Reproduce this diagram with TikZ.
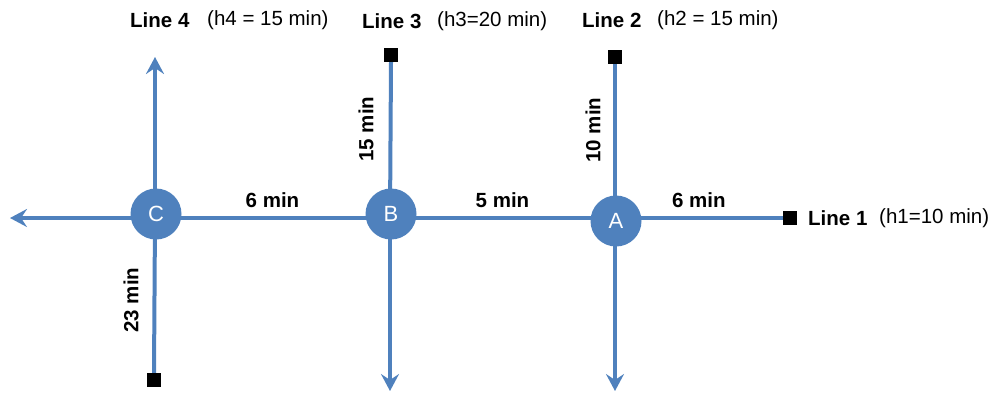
\documentclass[tikz,border=0pt]{standalone}
\usepackage{fontspec}
\setmainfont{Liberation Sans}
\usetikzlibrary{arrows.meta}
\definecolor{lineblue}{HTML}{4F81BD}
\tikzset{
  x=1pt, y=-1pt,
  route/.style={draw=lineblue, line width=4pt},
  arrowed/.style={route, -{Stealth[length=17pt,width=18pt,inset=6pt]}},
  stop/.style={circle, fill=lineblue, minimum size=51pt, inner sep=0pt, text=white, font=\fontsize{22}{24}\selectfont},
  terminus/.style={rectangle, fill=black, minimum size=14pt, inner sep=0pt},
  timelbl/.style={font=\fontsize{20.5}{23}\selectfont\bfseries, inner sep=2pt},
  linename/.style={font=\fontsize{20.5}{23}\selectfont\bfseries, inner sep=0pt},
  headway/.style={font=\fontsize{20.5}{23}\selectfont, inner sep=0pt}
}
\begin{document}
\begin{tikzpicture}
\useasboundingbox (0,0) rectangle (995,392);
% junction coordinates on the lines
\coordinate (Cj) at (155,218);
\coordinate (Bj) at (390,218);
\coordinate (Aj) at (615,218);
\coordinate (west) at (10,218);
\coordinate (north4) at (155,57);
\coordinate (south3) at (390,391);
\coordinate (south2) at (615,391);
% termini
\node[terminus] (t1) at (790,218) {};
\node[terminus] (t3) at (391,55) {};
\node[terminus] (t2) at (615,57) {};
\node[terminus] (t4) at (154,380) {};
% lines
\draw[arrowed] (Cj) -- (west);
\draw[route] (Cj) -- node[timelbl, above=6pt] (l6a) {6 min} (Bj);
\draw[route] (Bj) -- node[timelbl, above=6pt] (l5) {5 min} (Aj);
\draw[route] (Aj) -- node[timelbl, above=6pt] (l6b) {6 min} (t1.west);
\draw[arrowed] (Cj) -- (north4);
\draw[route] (Cj) -- (t4.north);
\draw[route] (Bj) -- (t3.south);
\draw[arrowed] (Bj) -- (south3);
\draw[route] (Aj) -- (t2.south);
\draw[arrowed] (Aj) -- (south2);
% vertical time labels
\node[timelbl, rotate=90] (l15) at (366,129) {15 min};
\node[timelbl, rotate=90] (l10) at (593,130) {10 min};
\node[timelbl, rotate=90] (l23) at (131,300) {23 min};
% stations
\node[stop] (C) at (156,214) {C};
\node[stop] (B) at (391,214) {B};
\node[stop] (A) at (616,221) {A};
% line names
\node[linename, anchor=west] (n4) at (130,20) {Line 4};
\node[headway, anchor=west] (h4) at (207,20) {(h4 = 15 min)};
\node[linename, anchor=west] (n3) at (362,21) {Line 3};
\node[headway, anchor=west] (h3) at (437,21) {(h3=20 min)};
\node[linename, anchor=west] (n2) at (582,20) {Line 2};
\node[headway, anchor=west] (h2) at (657,20) {(h2 = 15 min)};
\node[linename, anchor=west] (n1) at (808,218) {Line 1};
\node[headway, anchor=west] (h1) at (879,218) {(h1=10 min)};
\end{tikzpicture}
\end{document}
